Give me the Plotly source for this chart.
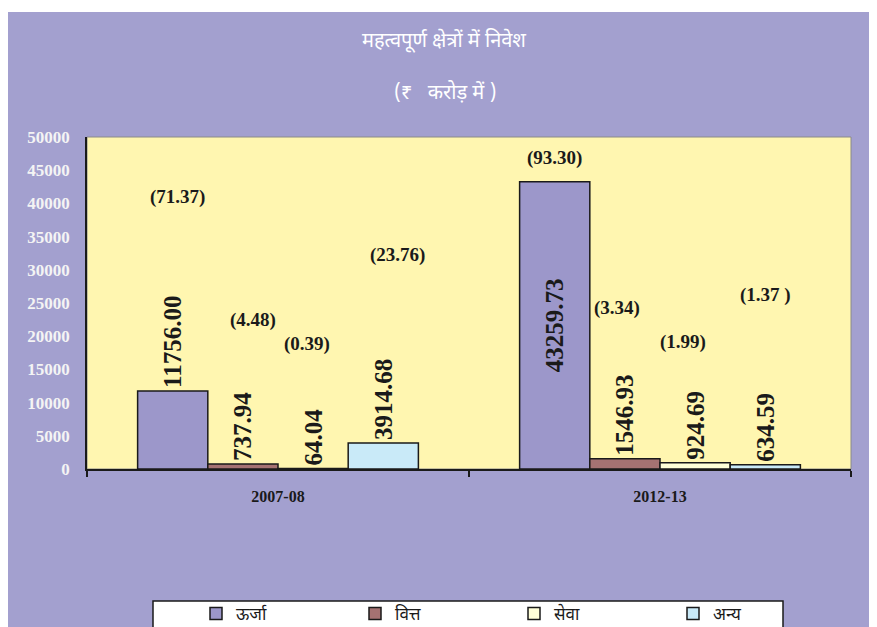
import plotly.graph_objects as go

# data
years = ["2007-08", "2012-13"]
sectors = ["ऊर्जा", "वित्त", "सेवा", "अन्य"]
urja = [11756.00, 43259.73]
vitt = [737.94, 1546.93]
seva = [64.04, 924.69]
anya = [3914.68, 634.59]
pct_urja = ["(71.37)", "(93.30)"]
pct_vitt = ["(4.48)", "(3.34)"]
pct_seva = ["(0.39)", "(1.99)"]
pct_anya = ["(23.76)", "(1.37 )"]

values = [urja, vitt, seva, anya]
pcts = [pct_urja, pct_vitt, pct_seva, pct_anya]
colors = ["#9c97ca", "#a57272", "#ffffd8", "#c9eaf8"]
# offsets (px) of each percentage label from its bar top
pct_shift = [[194, 24], [144, 151], [125, 121], [188, 170]]
pct_xshift = [[5, 0], [10, -8], [-6, -12], [14, 0]]

W, H = 877, 627
L, R, T, B = 79, 34, 129, 166
pw, ph = W - L - R, H - T - B
bargap = 0.265


def px_x(v):
    return (v - L) / pw


def px_y(v):
    return (H - B - v) / ph


serif = "Liberation Serif, Times New Roman, serif"
deva = "Noto Sans Devanagari, Lohit Devanagari, FreeSans, Noto Sans, sans-serif"

fig = go.Figure()
for j, name in enumerate(sectors):
    pos = ["outside", "outside"]
    if j == 0:
        pos = ["outside", "inside"]
    fig.add_trace(go.Bar(
        x=years, y=values[j], name=name,
        marker=dict(color=colors[j], line=dict(color="#1a1a1a", width=1.5)),
        text=["%.2f" % v for v in values[j]],
        textposition=pos, textangle=-90, constraintext="none",
        insidetextanchor="middle",
        textfont=dict(family=serif, size=25, color="#1a1a1a", weight="bold"),
        cliponaxis=False, hoverinfo="skip",
    ))

# percentage labels above each bar
w = (1 - bargap) / len(sectors)
anns = []
for j in range(len(sectors)):
    for i in range(len(years)):
        anns.append(dict(
            x=i + (j - 1.5) * w, y=values[j][i], xref="x", yref="y",
            text=pcts[j][i], showarrow=False,
            yshift=pct_shift[j][i], xshift=pct_xshift[j][i],
            font=dict(family=serif, size=19, color="#1a1a1a", weight="bold"),
        ))

anns.append(dict(
    x=px_x(437), y=px_y(70), xref="paper", yref="paper",
    text="(₹   करोड़ में )", showarrow=False,
    font=dict(family=deva, size=20, color="white"),
))
fig.update_layout(annotations=anns)

shapes = [
    # thin white strip on the top edge
    dict(type="rect", xref="paper", yref="paper", layer="above",
         x0=px_x(0), x1=px_x(W), y0=px_y(4), y1=px_y(0),
         fillcolor="white", line=dict(width=0)),
    # plot area border
    dict(type="rect", xref="paper", yref="paper", layer="below",
         x0=0, x1=1, y0=0, y1=1, line=dict(color="#8a8a8a", width=1)),
    # legend box
    dict(type="rect", xref="paper", yref="paper", layer="below",
         x0=px_x(145), x1=px_x(775), y0=px_y(640), y1=px_y(593),
         fillcolor="white", line=dict(color="#1a1a1a", width=1.5)),
]
fig.update_layout(shapes=shapes)

fig.update_layout(
    width=W, height=H,
    margin=dict(l=L, r=R, t=T, b=B, autoexpand=False),
    paper_bgcolor="#a3a0cf",
    plot_bgcolor="#fff6b0",
    barmode="group", bargap=bargap, bargroupgap=0,
    title=dict(text="महत्वपूर्ण क्षेत्रों में निवेश", x=436 / W, xanchor="center",
               y=1 - 32 / H, yanchor="middle",
               font=dict(family=deva, size=20, color="white")),
    showlegend=True,
    legend=dict(orientation="h", x=px_x(188), xanchor="left",
                y=px_y(588), yanchor="top",
                bgcolor="rgba(0,0,0,0)", borderwidth=0,
                entrywidth=114, entrywidthmode="pixels",
                font=dict(family=deva, size=17, color="#1a1a1a"),
                traceorder="normal"),
    xaxis=dict(type="category", showline=True, linecolor="#1a1a1a", linewidth=1.5,
               ticks="outside", tickson="boundaries", ticklen=6,
               tickcolor="#1a1a1a", tickwidth=1.5,
               tickfont=dict(family=serif, size=16, color="#1a1a1a", weight="bold"),
               ticklabelstandoff=12, showgrid=False, fixedrange=True),
    yaxis=dict(range=[0, 50000], dtick=5000, showline=True, linecolor="#1a1a1a",
               linewidth=1.5, showgrid=False, zeroline=False, ticks="",
               tickformat="d",
               tickfont=dict(family=serif, size=17, color="#f4f4f4", weight="bold"),
               ticklabelstandoff=12, fixedrange=True),
)

fig.write_html("out.html")
